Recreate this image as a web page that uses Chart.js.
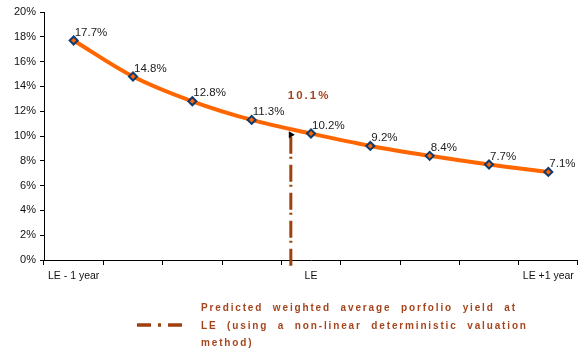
<!DOCTYPE html>
<html>
<head>
<meta charset="utf-8">
<script src="https://cdn.jsdelivr.net/npm/chart.js@4.4.1/dist/chart.umd.min.js"></script>
<style>
  html, body { margin: 0; padding: 0; background: #fff; }
  #wrap { position: relative; width: 578px; height: 351px; overflow: hidden; }
  #c { position: absolute; left: 0; top: 0; }
  #legend {
    position: absolute; left: 201px; top: 299px;
    font: bold 10px Arial, "Liberation Sans", sans-serif;
    color: #A5451E; letter-spacing: 1.85px; word-spacing: 5px; line-height: 17.5px;
    white-space: nowrap;
  }
</style>
</head>
<body>
<div id="wrap">
  <canvas id="c" width="578" height="351"></canvas>
  <div id="legend"></div>
</div>
<script>
// Time axis: one year either side of life expectancy (LE)
const categories = ['LE - 1 year', '', '', '', 'LE', '', '', '', 'LE +1 year'];
// Portfolio yield (%) at each step
const yieldValues = [17.7, 14.8, 12.8, 11.3, 10.2, 9.2, 8.4, 7.7, 7.1];
// Y axis ticks (%)
const yTicks = [0, 2, 4, 6, 8, 10, 12, 14, 16, 18, 20];
// Predicted weighted average yield and where it falls on the time axis
const predictedYield = 10.1;
const predictedAt = 3.66;
const legendLines = [
  'Predicted weighted average porfolio yield at',
  'LE (using a non-linear deterministic valuation',
  'method)'
];

document.getElementById('legend').innerHTML = legendLines.join('<br>');

const FONT = 'Arial, "Liberation Sans", sans-serif';
const BROWN = '#A0400F';
const DASH = [17, 3, 2, 6];

const pointLabels = {
  id: 'pointLabels',
  afterDatasetsDraw(chart) {
    const ctx = chart.ctx;
    const meta = chart.getDatasetMeta(0);
    ctx.save();
    ctx.font = '11.5px ' + FONT;
    ctx.fillStyle = '#222';
    ctx.textAlign = 'left';
    ctx.textBaseline = 'middle';
    meta.data.forEach((pt, i) => {
      ctx.fillText(yieldValues[i].toFixed(1) + '%', pt.x + 1, pt.y - 8);
    });
    ctx.restore();
  }
};

const predictedLine = {
  id: 'predictedLine',
  beforeDatasetsDraw(chart) {
    const { ctx, chartArea, scales } = chart;
    const x = scales.x.getPixelForValue(predictedAt);
    const yTop = scales.y.getPixelForValue(predictedYield);
    ctx.save();
    ctx.strokeStyle = BROWN;
    ctx.lineWidth = 3;
    ctx.setLineDash(DASH);
    ctx.beginPath();
    ctx.moveTo(x, yTop + 2);
    ctx.lineTo(x, chartArea.bottom + 8);
    ctx.stroke();
    ctx.restore();
  },
  afterDraw(chart) {
    const { ctx, scales } = chart;
    const x = scales.x.getPixelForValue(predictedAt);
    const yTop = scales.y.getPixelForValue(predictedYield);
    ctx.save();
    // value caption above the line
    ctx.font = 'bold 11.5px ' + FONT;
    ctx.letterSpacing = '2px';
    ctx.fillStyle = '#A5451E';
    ctx.textAlign = 'left';
    ctx.textBaseline = 'middle';
    ctx.fillText(predictedYield.toFixed(1) + '%', x - 3, yTop - 39);
    ctx.letterSpacing = '0px';
    // legend sample
    ctx.strokeStyle = BROWN;
    ctx.lineWidth = 3.5;
    ctx.setLineDash([14, 7, 3, 7]);
    ctx.beginPath();
    ctx.moveTo(137, 325);
    ctx.lineTo(183, 325);
    ctx.stroke();
    ctx.restore();
  }
};

new Chart(document.getElementById('c'), {
  type: 'line',
  data: {
    datasets: [
      {
        data: yieldValues.map((v, i) => ({ x: i, y: v })),
        borderColor: '#FF6600',
        borderWidth: 4,
        tension: 0.35,
        pointStyle: 'rectRot',
        pointRadius: 4,
        pointBorderWidth: 2,
        pointBorderColor: '#0E3B70',
        pointBackgroundColor: '#FF6600',
        order: 1
      },
      {
        data: [{ x: predictedAt, y: predictedYield }],
        showLine: false,
        pointStyle: 'triangle',
        rotation: 90,
        pointRadius: 4,
        pointBorderWidth: 0,
        pointBackgroundColor: '#000',
        order: 0
      }
    ]
  },
  options: {
    responsive: false,
    animation: false,
    devicePixelRatio: 1,
    layout: { autoPadding: false, padding: { top: 12, left: 0, right: 0, bottom: 0 } },
    plugins: { legend: { display: false }, tooltip: { enabled: false } },
    scales: {
      x: {
        type: 'linear',
        min: -0.5,
        max: 8.5,
        afterBuildTicks(s) { s.ticks = categories.map((_, i) => ({ value: i })); },
        afterFit(s) { s.height = 91; s.paddingLeft = 0; s.paddingRight = 0; },
        border: { color: '#000', width: 1 },
        grid: { offset: true, drawOnChartArea: false, tickLength: 5, color: '#000' },
        ticks: {
          autoSkip: false, maxRotation: 0, padding: 5,
          color: '#111', font: { family: FONT, size: 10.5 },
          callback: (v, i) => categories[i]
        }
      },
      y: {
        min: 0,
        max: 20,
        afterBuildTicks(s) { s.ticks = yTicks.map(v => ({ value: v })); },
        afterFit(s) { s.width = 44; },
        border: { color: '#000', width: 1 },
        grid: { drawOnChartArea: false, tickLength: 4, color: '#000' },
        ticks: {
          padding: 4, color: '#111', font: { family: FONT, size: 11 },
          callback: v => v + '%'
        }
      }
    }
  },
  plugins: [pointLabels, predictedLine]
});
</script>
</body>
</html>
